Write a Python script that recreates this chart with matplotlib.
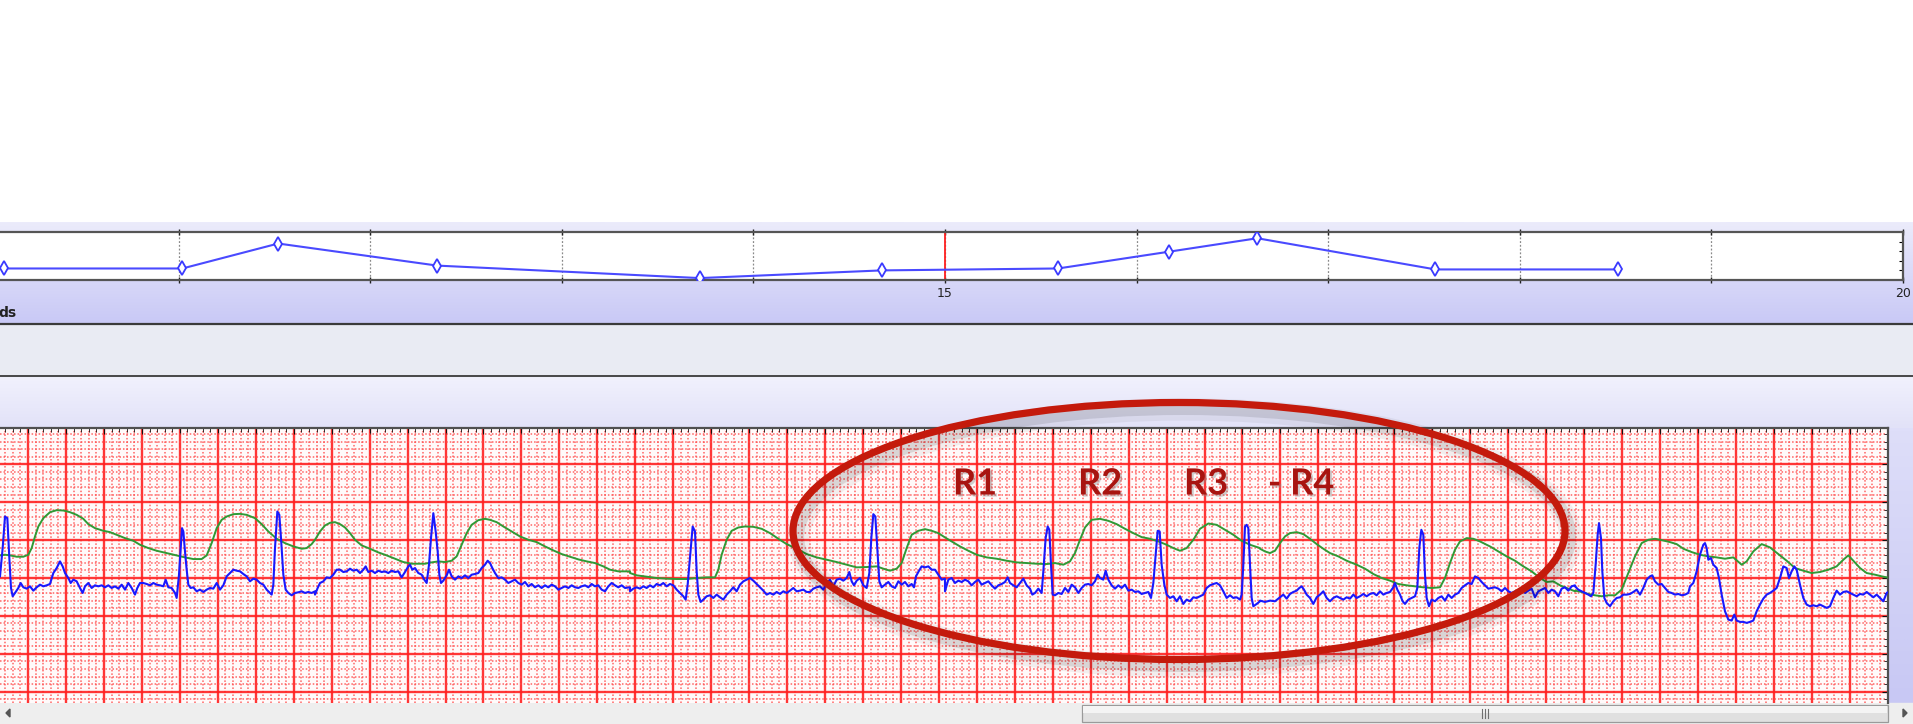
import numpy as np
import matplotlib
matplotlib.use("Agg")
import matplotlib.pyplot as plt
from matplotlib.patches import Rectangle, Ellipse, Polygon
from matplotlib.colors import LinearSegmentedColormap
import matplotlib.patheffects as pe

# ---------------- data ----------------
# trend strip (top): beat times (s) and heart rate (bpm)
trend_t = [10.09, 11.02, 11.52, 12.35, 13.72, 14.67, 15.59, 16.17, 16.63, 17.56, 18.51]
trend_hr = [62, 62, 88, 65, 52, 60, 62, 79.5, 93.5, 61, 61]
trend_labels = {15: "15", 20: "20"}
cursor_t = 15

# ECG (blue) and pleth (green) samples, read strip by strip:
# (sample index inside strip, ADC counts)
FS = 569.25      # samples per second
GAIN = 228.0     # counts per mV
STRIP_LEN = 945
T0 = 0.052

ecg_1 = [(0,5),(8,90),(15,185),(22,180),(28,60),(33,-30),(38,-55),(45,-45),(55,-30),(62,-15),(70,-28),(80,-32),
         (90,-25),(100,-38),(110,-28),(120,-20),(130,-25),(140,-22),(150,-18),(160,15),(170,30),(180,50),(188,35),
         (195,15),(205,0),(212,-15),(220,-5),(230,-10),(240,-30),(248,-45),(255,-25),(265,-15),(275,-30),(285,-22),
         (295,-25),(305,-22),(315,-28),(325,-22),(335,-30),(345,-25),(355,-32),(365,-20),(375,-35),(385,-15),(395,-30),
         (405,-50),(412,-30),(420,-15),(430,-15),(440,-18),(450,-22),(460,-15),(470,-20),(480,-22),(490,-25),(497,-5),
         (505,-28),(515,-30),(525,-45),(530,-60),(537,10),(542,90),(546,150),(550,140),(555,80),(560,25),(565,-20),
         (572,-30),(580,-28),(590,-40),(600,-35),(610,-42),(620,-35),(630,-30),(640,-32),(650,-15),(660,-35),(670,-22),
         (680,5),(690,15),(700,25),(710,22),(720,20),(730,12),(740,5),(750,-10),(760,-2),(770,-5),(780,-15),(790,-20),
         (800,-35),(810,-45),(815,-50),(820,-20),(825,90),(832,200),(838,190),(843,120),(850,10),(857,-35),(865,-45),
         (875,-52),(885,-45),(895,-43),(905,-40),(915,-45),(925,-42),(935,-45),(945,-40)]
ecg_2 = [(0,-50),(8,-30),(15,-15),(25,-10),(35,2),(45,0),(55,10),(65,25),(75,25),(85,18),(95,20),(105,28),(115,22),
         (125,25),(135,15),(145,25),(152,35),(160,18),(170,22),(180,15),(190,22),(200,18),(210,20),(220,15),(230,22),
         (240,18),(250,20),(260,2),(270,18),(280,35),(285,40),(292,25),(300,30),(310,15),(320,10),(328,-5),(335,-15),
         (342,40),(348,120),(355,195),(362,140),(368,80),(373,10),(378,-15),(385,-8),(395,8),(402,25),(410,5),(420,-5),
         (430,5),(440,0),(450,8),(460,0),(470,10),(480,12),(490,15),(500,30),(510,40),(518,52),(525,45),(532,30),
         (540,15),(550,0),(560,2),(570,-5),(580,-15),(590,-10),(600,-5),(610,-15),(620,-20),(630,-12),(640,-25),
         (650,-18),(660,-28),(670,-22),(680,-30),(690,-22),(700,-28),(710,-20),(720,-25),(730,-35),(740,-30),(750,-25),
         (760,-30),(770,-22),(780,-28),(790,-30),(800,-25),(810,-22),(820,-28),(830,-18),(840,-25),(850,-22),(860,-35),
         (870,-40),(880,-25),(890,-15),(900,-22),(910,-28),(920,-22),(930,-30),(945,-28)]
ecg_3 = [(0,-40),(10,-32),(20,-28),(30,-32),(40,-25),(50,-30),(60,-22),(70,-28),(80,-18),(90,-22),(100,-15),(110,-25),
         (120,-18),(130,-22),(140,-35),(150,-45),(160,-55),(167,-65),(173,-20),(180,60),(188,155),(195,140),(200,20),
         (205,-50),(212,-72),(220,-65),(230,-55),(240,-52),(250,-60),(260,-50),(270,-58),(280,-65),(290,-50),(300,-40),
         (310,-28),(320,-40),(330,-20),(340,-10),(350,-5),(360,0),(370,-8),(380,-18),(390,-28),(400,-38),(410,-50),
         (420,-45),(430,-50),(440,-42),(450,-48),(460,-40),(470,-45),(480,-38),(490,-30),(500,-40),(510,-38),(520,-35),
         (530,-42),(540,-42),(550,-32),(560,-28),(570,-25),(580,-35),(590,-15),(600,-5),(610,-25),(620,-5),(630,-2),
         (640,-8),(650,0),(658,18),(665,-10),(672,-22),(680,-8),(690,0),(700,-22),(710,-30),(718,15),(724,120),
         (730,192),(736,185),(742,90),(748,-10),(755,-28),(765,-20),(775,-12),(785,-25),(795,-30),(805,-10),(815,-20),
         (825,-12),(835,-25),(845,-18),(852,-28),(858,5),(866,20),(875,35),(885,32),(895,35),(905,25),(915,25),
         (925,10),(935,-5),(945,-2)]
ecg_4 = [(0,-40),(10,-5),(20,0),(30,-15),(40,-8),(50,-12),(60,-5),(70,-10),(80,-22),(90,-12),(100,-5),(110,-20),
         (120,-15),(130,-10),(140,-22),(150,-32),(160,-22),(170,-18),(180,-12),(188,2),(195,-15),(205,-22),(215,-28),
         (225,-15),(235,-2),(245,-22),(255,-32),(262,-50),(270,-45),(280,-32),(290,-45),(295,20),(302,120),(308,155),
         (313,145),(318,40),(323,-50),(330,-52),(340,-45),(350,-48),(360,-30),(370,-42),(380,-20),(390,-28),(400,-45),
         (410,-30),(420,-20),(430,-18),(440,-22),(450,-10),(458,10),(465,0),(475,-5),(482,22),(490,-5),(500,-22),
         (510,-32),(520,-22),(530,-30),(540,-20),(550,-38),(560,-35),(570,-42),(580,-40),(590,-48),(600,-45),(610,-42),
         (618,-60),(625,-15),(632,70),(638,142),(644,140),(650,40),(658,-20),(665,-50),(675,-60),(685,-55),(695,-70),
         (705,-55),(715,-78),(725,-65),(735,-70),(745,-58),(755,-60),(765,-55),(775,-50),(785,-30),(795,-22),(805,-18),
         (815,-15),(825,-22),(835,-40),(845,-60),(855,-52),(865,-60),(875,-58),(885,-65),(890,-50),(895,40),(900,155),
         (905,160),(910,150),(915,40),(920,-60),(925,-85),(935,-78),(945,-70)]
ecg_5 = [(0,-68),(15,-72),(30,-68),(45,-70),(60,-58),(70,-50),(80,-62),(90,-48),(100,-42),(110,-38),(118,-30),
         (125,-25),(132,-35),(140,-50),(150,-60),(160,-78),(170,-58),(180,-50),(190,-40),(200,-60),(210,-70),(220,-60),
         (230,-55),(240,-60),(250,-65),(260,-58),(270,-62),(280,-50),(290,-60),(300,-55),(310,-48),(320,-55),(330,-48),
         (340,-45),(350,-52),(360,-40),(370,-50),(380,-45),(390,-42),(400,-28),(405,-15),(412,-35),(420,-50),(428,-70),
         (435,-78),(445,-65),(455,-60),(465,-55),(472,-30),(478,90),(484,145),(490,130),(495,10),(500,-60),(507,-85),
         (515,-65),(525,-70),(535,-60),(545,-55),(555,-68),(565,-50),(575,-60),(585,-50),(595,-45),(605,-30),(615,-22),
         (625,-15),(635,-18),(645,5),(655,0),(665,-12),(675,-22),(685,-32),(695,-30),(705,-28),(715,-32),(725,-40),
         (735,-30),(745,-40),(755,-45),(765,-40),(775,-38),(785,-32),(795,-45),(805,-38),(815,-32),(825,-58),(835,-40),
         (845,-35),(855,-30),(865,-45),(875,-35),(885,-40),(895,-55),(905,-32),(915,-28),(925,-38),(935,-25),(945,-22)]
ecg_6 = [(0,-25),(10,-35),(20,-40),(30,-45),(40,-50),(48,-55),(55,-45),(62,40),(68,130),(72,165),(78,120),(82,20),
         (88,-60),(95,-75),(105,-85),(115,-70),(125,-60),(135,-58),(145,-50),(155,-50),(165,-48),(175,-42),(185,-35),
         (195,-50),(205,-30),(215,-5),(225,5),(232,8),(240,-10),(250,-20),(260,-18),(270,-30),(280,-42),(290,-45),
         (300,-50),(310,-48),(320,-52),(330,-50),(340,-45),(345,-25),(355,-15),(365,20),(375,70),(385,100),(390,105),
         (395,90),(400,55),(408,60),(415,40),(425,30),(432,0),(440,-50),(450,-100),(460,-125),(470,-128),(478,-110),
         (485,-128),(495,-132),(505,-132),(515,-135),(525,-132),(535,-128),(545,-100),(555,-80),(565,-62),(575,-50),
         (585,-45),(595,-38),(605,-30),(615,0),(625,35),(635,30),(642,0),(650,20),(658,35),(665,25),(675,-20),(685,-60),
         (695,-80),(705,-85),(715,-82),(725,-85),(735,-80),(745,-85),(755,-90),(765,-85),(775,-60),(785,-38),(795,-50),
         (805,-42),(815,-40),(825,-45),(835,-50),(845,-55),(855,-48),(865,-50),(875,-42),(885,-50),(895,-58),(905,-50),
         (915,-60),(925,-70),(935,-45),(940,-42)]

pleth_1 = [(0,68),(15,70),(30,68),(50,64),(70,64),(85,70),(95,90),(105,125),(115,155),(130,180),(150,198),(170,204),
           (190,203),(210,198),(230,190),(250,178),(265,162),(285,150),(310,142),(330,138),(350,130),(375,120),(400,112),
           (420,100),(445,90),(470,82),(500,75),(530,68),(555,62),(580,57),(605,57),(620,68),(635,105),(650,150),
           (665,175),(680,185),(700,192),(720,193),(740,190),(765,180),(785,162),(805,140),(830,118),(855,105),(880,95),
           (905,88),(920,90),(935,102),(945,115)]
pleth_2 = [(0,115),(15,140),(30,158),(45,166),(60,168),(75,162),(90,152),(105,135),(120,115),(140,98),(165,88),(190,77),
           (215,68),(240,58),(265,48),(290,43),(310,43),(330,43),(350,47),(370,50),(390,48),(410,52),(425,65),(440,100),
           (455,135),(470,160),(490,174),(510,178),(525,175),(545,168),(565,155),(590,140),(615,125),(640,115),(665,108),
           (690,95),(715,83),(740,72),(765,64),(790,56),(815,50),(840,45),(865,35),(885,25),(910,20),(930,20),(945,20)]
pleth_3 = [(0,15),(20,8),(50,4),(80,0),(110,-2),(140,-3),(170,-3),(200,0),(230,2),(255,2),(265,25),(275,70),(290,115),
           (305,142),(325,152),(345,155),(370,154),(395,148),(420,135),(445,118),(470,102),(500,88),(530,72),(560,62),
           (590,55),(620,48),(650,40),(680,32),(710,33),(740,35),(760,28),(780,22),(800,28),(815,45),(830,90),(845,130),
           (865,142),(885,147),(905,142),(925,135),(945,122)]
pleth_4 = [(0,122),(20,110),(45,95),(70,82),(95,70),(125,62),(155,58),(185,52),(215,47),(245,45),(275,43),(305,42),
           (330,45),(355,40),(375,50),(390,75),(405,115),(420,152),(440,175),(465,178),(490,172),(515,162),(540,148),
           (565,135),(590,123),(615,118),(640,110),(665,100),(685,90),(705,82),(725,90),(745,115),(765,148),(790,164),
           (815,160),(840,145),(865,130),(890,112),(915,100),(945,90)]
pleth_5 = [(0,88),(15,80),(30,75),(45,82),(60,105),(75,125),(90,135),(110,138),(130,132),(150,118),(170,102),(190,88),
           (210,75),(235,65),(260,52),(290,40),(315,28),(340,12),(365,0),(390,-8),(415,-18),(440,-22),(465,-25),
           (490,-28),(515,-30),(540,-28),(555,0),(570,45),(585,85),(600,110),(620,120),(640,118),(660,110),(690,95),
           (715,80),(740,65),(765,52),(790,35),(815,20),(840,0),(860,-12),(880,-10),(900,-22),(920,-30),(945,-40)]
pleth_6 = [(0,-38),(20,-42),(40,-48),(60,-52),(80,-55),(100,-52),(120,-52),(140,-35),(160,15),(180,65),(200,105),
           (220,115),(240,118),(260,114),(285,108),(305,102),(325,88),(350,78),(375,70),(400,65),(425,62),(450,58),
           (475,62),(500,40),(515,50),(535,80),(560,102),(585,92),(610,72),(635,52),(660,30),(685,22),(710,15),(735,18),
           (760,25),(785,35),(805,55),(820,68),(835,52),(855,30),(875,15),(900,10),(920,5),(935,2)]

annot_labels = ["R1", "R2", "R3", "- R4"]


def join_strips(strips):
    t, v = [], []
    for k, s in enumerate(strips):
        for n, c in s:
            t.append((STRIP_LEN * k + n) / FS + T0)
            v.append(c / GAIN)
    return np.array(t), np.array(v)


ecg_t, ecg_mv = join_strips([ecg_1, ecg_2, ecg_3, ecg_4, ecg_5, ecg_6])
pl_t, pl_mv = join_strips([pleth_1, pleth_2, pleth_3, pleth_4, pleth_5, pleth_6])

# ---------------- figure ----------------
W, H = 1913, 724
fig = plt.figure(figsize=(W / 100, H / 100), dpi=100)
fig.patch.set_facecolor("white")


def px_axes(x0, y0, x1, y1, **kw):
    return fig.add_axes([x0 / W, 1 - y1 / H, (x1 - x0) / W, (y1 - y0) / H], **kw)


bg = fig.add_axes([0, 0, 1, 1])
bg.axis("off")


def vgrad(x0, x1, y0, y1, c0, c1):
    cmap = LinearSegmentedColormap.from_list("g", [c0, c1])
    bg.imshow(np.linspace(0, 1, 64)[:, None], extent=(x0, x1, y1, y0), aspect="auto",
              cmap=cmap, zorder=0, interpolation="bilinear")


# window panels
vgrad(0, W, 222, 324, "#ebebfb", "#c9c9f6")
bg.add_patch(Rectangle((0, 324), W, 52, color="#e9ebf3", zorder=1))
vgrad(0, W, 377, 428, "#f1f1fd", "#e2e2f8")
vgrad(1888, W, 428, 703, "#dedef9", "#c8c8f4")
bg.plot([0, W], [324, 324], color="#3a3a3a", lw=1.6, zorder=2)
bg.plot([0, W], [376, 376], color="#3a3a3a", lw=1.3, zorder=2)
bg.text(-2, 313, "ds", fontsize=10, fontweight="bold", color="#222222", va="center", ha="left", zorder=3)

# scrollbar
bg.add_patch(Rectangle((0, 703), W, 21, color="#eeeeee", zorder=1))
bg.add_patch(Rectangle((1082, 705), 806, 17, facecolor="#e0e0e0", edgecolor="#9a9a9a", lw=0.9, zorder=2))
bg.add_patch(Rectangle((1083, 706), 804, 7, facecolor="#f4f4f4", edgecolor="none", zorder=2))
for gx in (1482, 1485, 1488):
    bg.plot([gx, gx], [709, 718], color="#707070", lw=0.8, zorder=3)
bg.add_patch(Polygon([[6, 713], [10, 709], [10, 717]], color="#555555", zorder=3))
bg.add_patch(Polygon([[1907, 713], [1903, 709], [1903, 717]], color="#555555", zorder=3))
bg.set_xlim(0, W)
bg.set_ylim(H, 0)

# ---------------- trend strip ----------------
tr = px_axes(0, 232, 1903, 280)
tr.set_facecolor("white")
tr.plot(trend_t, trend_hr, color="#4a4aff", lw=1.5, marker="d", ms=7, mfc="white",
        mec="#3a3aff", mew=1.3, zorder=3)
tr.axvline(cursor_t, color="#ff2020", lw=1.3, zorder=2)
tr.set_xlim(10.068, 20)
tr.set_ylim(50, 100)
ticks = list(range(11, 21))
tr.set_xticks(ticks)
tr.set_xticklabels([trend_labels.get(t, "") for t in ticks], fontsize=9, color="#333333")
tr.tick_params(axis="x", direction="inout", length=4, width=1, pad=3, top=True, colors="#222222")
tr.set_yticks([60, 70, 80, 90])
tr.tick_params(axis="y", left=False, right=True, direction="in", length=3, labelleft=False)
tr.grid(axis="x", color="#8a8a8a", ls=(0, (1.5, 1.5)), lw=0.9)
for s in ("top", "bottom", "right"):
    tr.spines[s].set_color("#555555")
    tr.spines[s].set_linewidth(1.6)
tr.spines["left"].set_visible(False)

# ---------------- ECG paper ----------------
ax = px_axes(0, 428, 1888, 703)
ax.set_facecolor("#fffafa")
ax.set_xlim(T0, 10.002)
ax.set_ylim(-1.649, 1.979)
ax.set_xticks(np.arange(0.2, 10.0, 0.2))
ax.set_xticks(np.arange(0.08, 10.0, 0.04), minor=True)
ax.set_yticks(np.arange(-1.5, 1.6, 0.5))
ax.set_yticks(np.arange(-1.6, 1.95, 0.1), minor=True)
ax.grid(which="minor", color="#ff4a4a", ls=(0, (1, 1.3)), lw=1.1, alpha=0.85)
ax.grid(which="major", color="#ff2020", lw=1.7, alpha=0.9)
ax.tick_params(which="both", bottom=False, left=False, top=True, right=True, direction="in",
               labelbottom=False, labelleft=False, colors="#111111")
ax.tick_params(which="major", length=4)
ax.tick_params(which="minor", length=3)
ax.set_axisbelow(True)
for s in ("left", "bottom"):
    ax.spines[s].set_visible(False)
for s in ("top", "right"):
    ax.spines[s].set_color("#505050")
    ax.spines[s].set_linewidth(1.6)

ax.plot(pl_t, pl_mv, color="#2f9a35", lw=1.4, zorder=3)
ax.plot(ecg_t, ecg_mv, color="#1818ff", lw=1.5, zorder=4)

# ---------------- annotation overlay ----------------
ov = fig.add_axes([0, 0, 1, 1], zorder=10)
ov.patch.set_visible(False)
ov.axis("off")
ov.set_xlim(0, W)
ov.set_ylim(H, 0)
shadow = [pe.SimpleLineShadow(offset=(4, -5), shadow_color="#000000", alpha=0.05, linewidth=16),
          pe.SimpleLineShadow(offset=(3, -4), shadow_color="#000000", alpha=0.10, linewidth=10),
          pe.Normal()]
ov.add_patch(Ellipse((1179, 531), 772, 257, fill=False, edgecolor="#c41a0c", lw=5.2,
                     path_effects=shadow))
for lab, cx in zip(annot_labels, [975, 1100, 1206, 1301]):
    ov.text(cx, 484, lab, fontsize=26, fontweight="bold", family="Lato", color="#a81410",
            ha="center", va="center",
            path_effects=[pe.withSimplePatchShadow(offset=(1.5, -1.5), shadow_rgbFace="#888888", alpha=0.4)])

fig.savefig("out.png", dpi=100)
